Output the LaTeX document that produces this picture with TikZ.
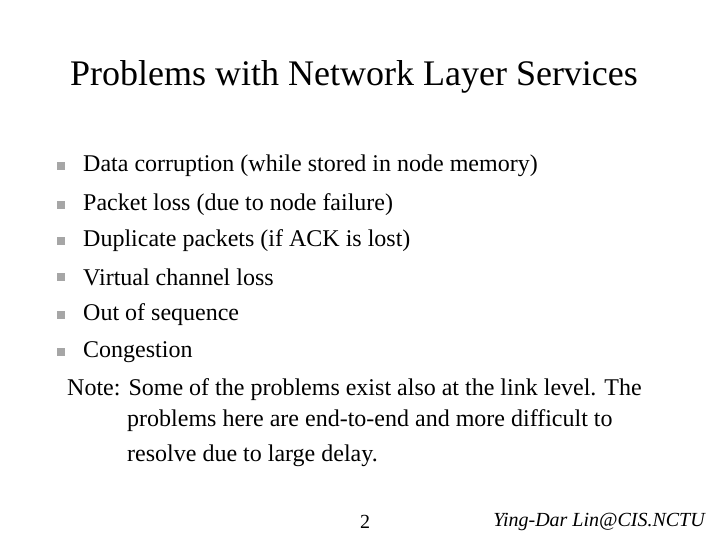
\documentclass[tikz,border=0pt]{standalone}
\usepackage{fontspec}
\setmainfont{Liberation Serif}
\begin{document}
\begin{tikzpicture}[x=1pt,y=-1pt,
  bul/.style={fill=gray!70,minimum size=8pt,inner sep=0pt},
  itm/.style={anchor=west,inner sep=0pt,font=\fontsize{24}{28}\selectfont},
  ft/.style={inner sep=0pt,font=\fontsize{20}{24}\selectfont}]
\useasboundingbox[fill=white] (0,0) rectangle (720,540);
\node[inner sep=0pt,font=\fontsize{36}{42}\selectfont] (title) at (354,77) {Problems with Network Layer Services};
\foreach \y/\t [count=\i] in {166/Data corruption (while stored in node memory),205/Packet loss (due to node failure),241/Duplicate packets (if ACK is lost),277/Virtual channel loss,315/Out of sequence,352/Congestion}{
  \node[bul] (b\i) at (61,\y) {};
  \node[itm] (t\i) at (83,\y) {\t};
}
\node[itm] (n1) at (67,390) {Note: Some of the problems exist also at the link level. The};
\node[itm] (n2) at (127,421) {problems here are end-to-end and more difficult to};
\node[itm] (n3) at (127,456) {resolve due to large delay.};
\node[ft] (pg) at (365,522) {2};
\node[ft,anchor=east,font=\fontsize{20}{24}\selectfont\itshape] (au) at (705,522) {Ying-Dar Lin@CIS.NCTU};
\end{tikzpicture}
\end{document}
